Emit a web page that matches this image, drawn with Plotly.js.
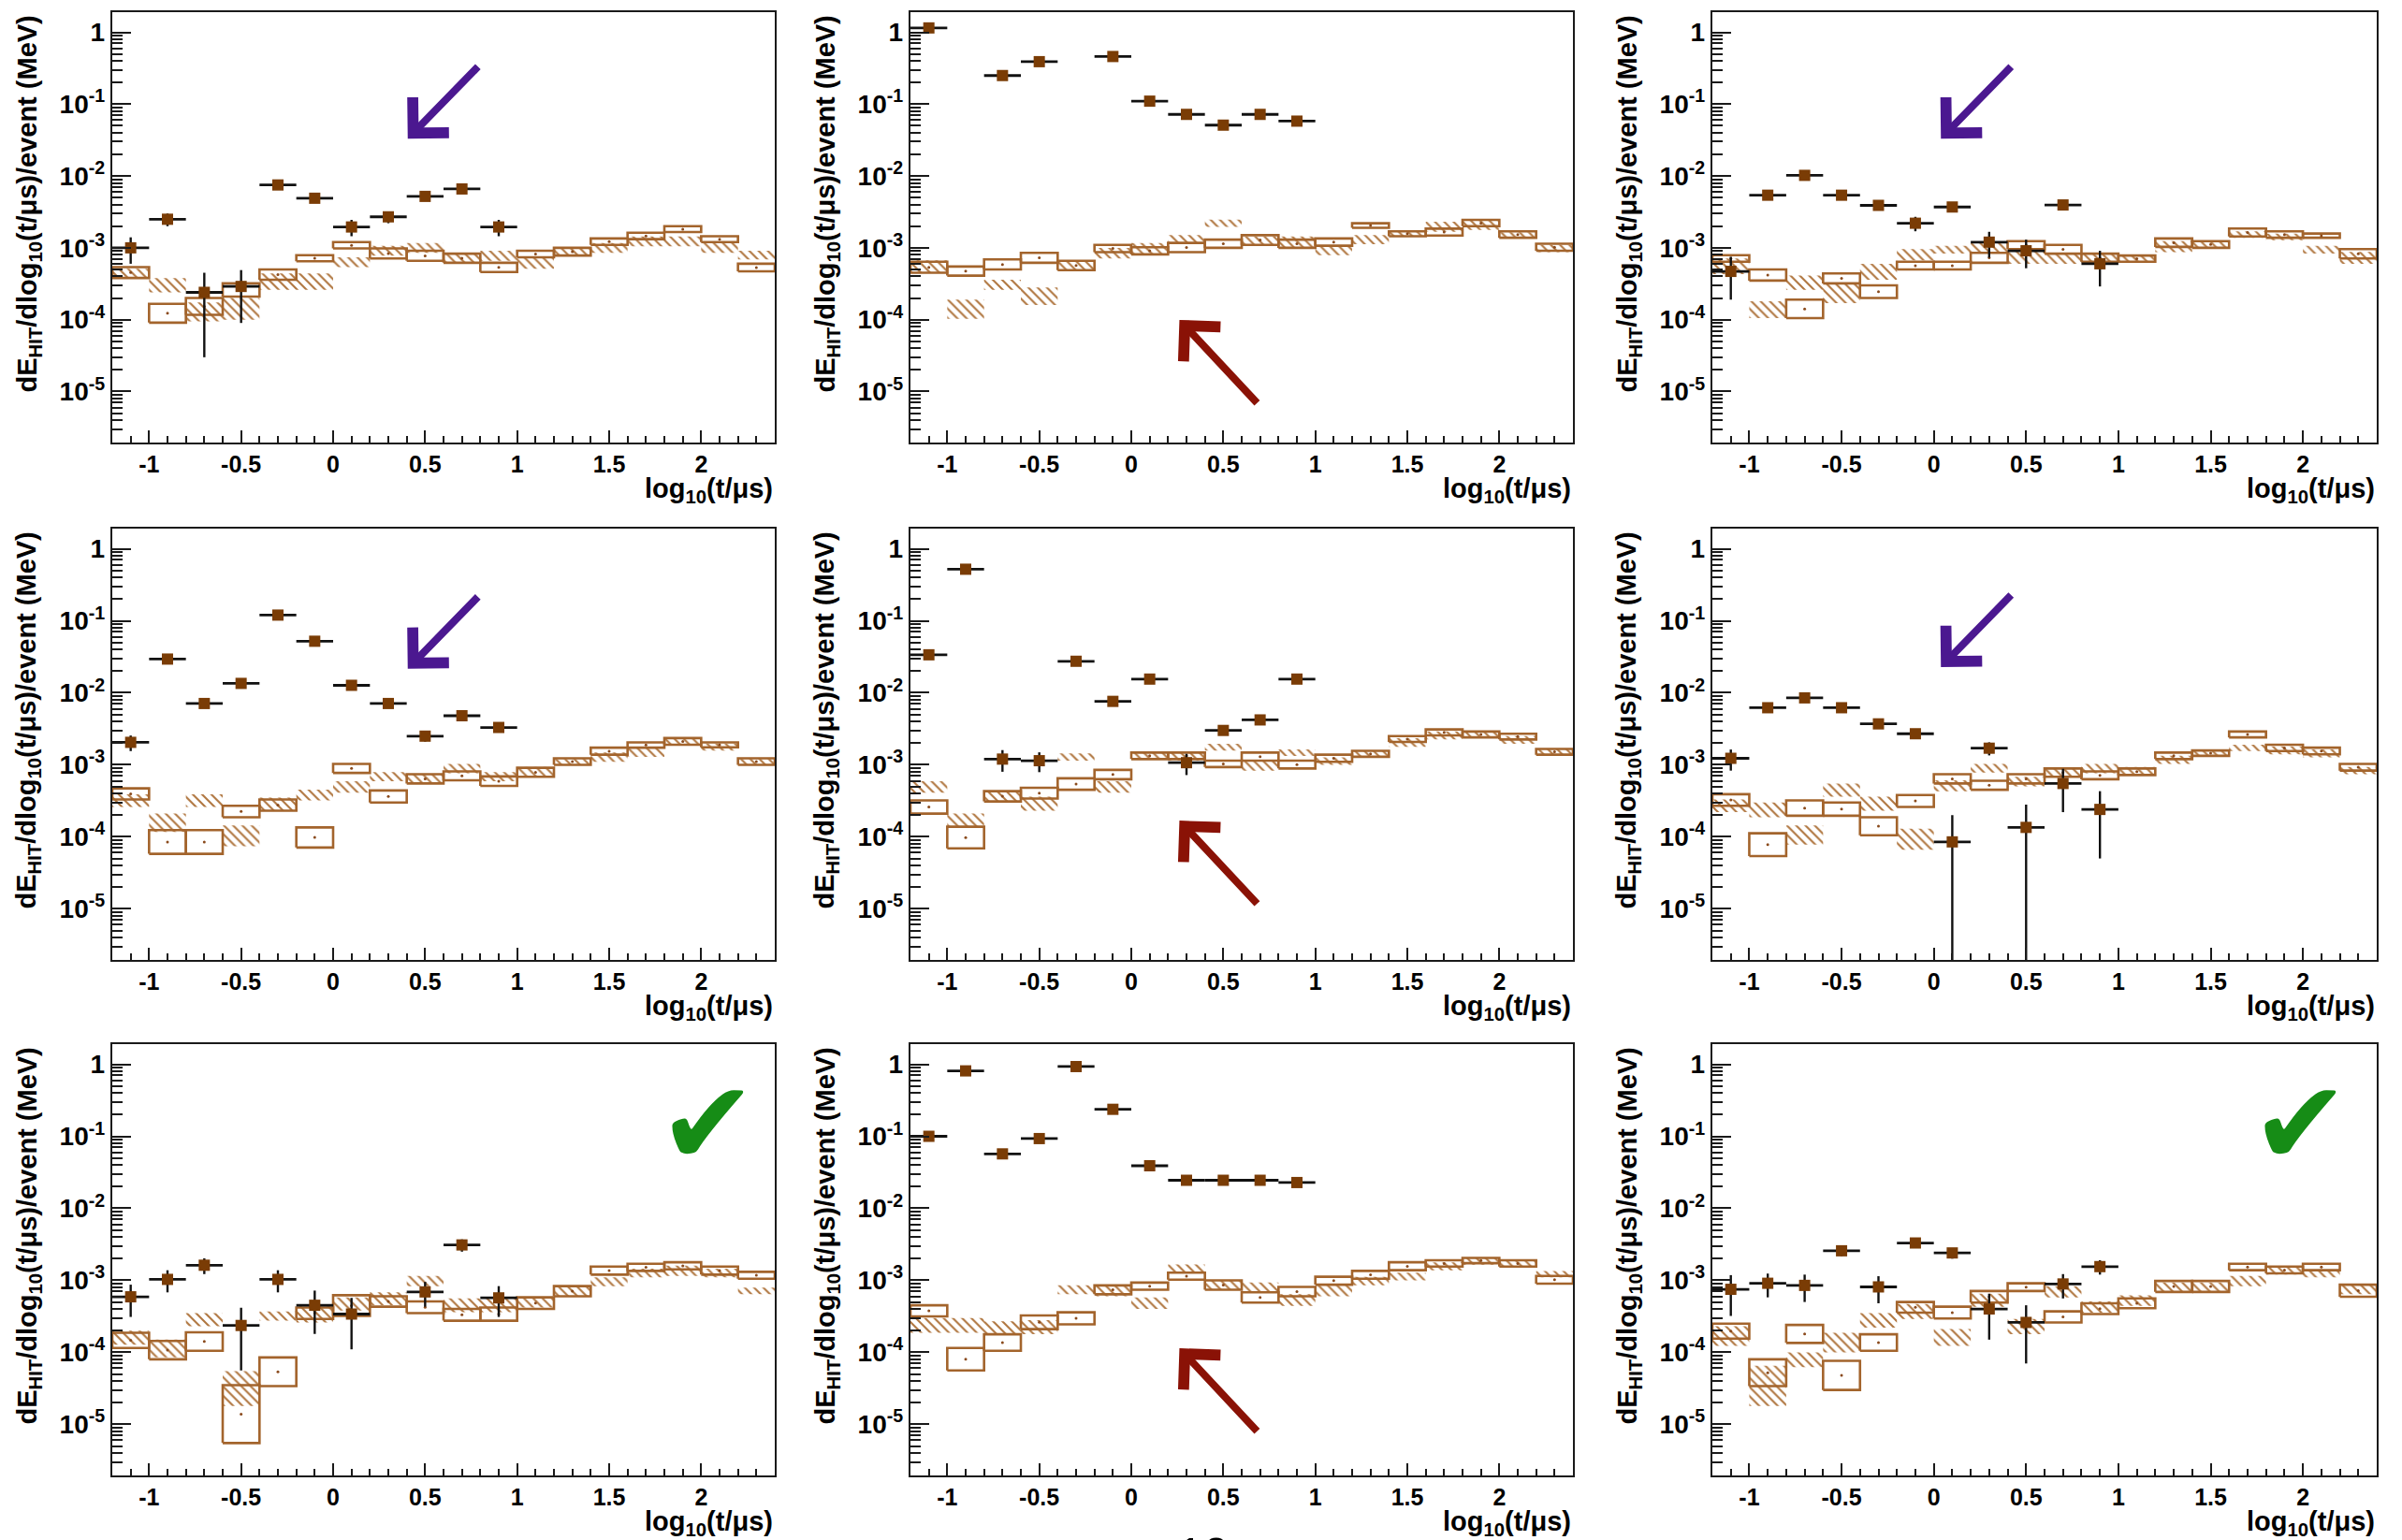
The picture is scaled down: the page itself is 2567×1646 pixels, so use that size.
<!DOCTYPE html>
<html><head><meta charset="utf-8">
<script src="https://cdn.plot.ly/plotly-3.0.1.min.js"></script>
<style>html,body{margin:0;padding:0;background:#fff}#chart{width:2567px;height:1646px}</style>
</head><body><div id="chart"></div>
<script>
// ---------- shared categories / ticks ----------
const binCenters = [-1.1,-0.9,-0.7,-0.5,-0.3,-0.1,0.1,0.3,0.5,0.7,0.9,1.1,1.3,1.5,1.7,1.9,2.1,2.3];
const dataBins   = [-1.1,-0.9,-0.7,-0.5,-0.3,-0.1,0.1,0.3,0.5,0.7,0.9];
const binHalfWidth = 0.1;
const xTickVals = [-1,-0.5,0,0.5,1,1.5,2];
const xTickText = ['-1','-0.5','0','0.5','1','1.5','2'];
const yTickVals = [1e-5,1e-4,1e-3,1e-2,1e-1,1];
const yTickText = ['10<sup>-5</sup>','10<sup>-4</sup>','10<sup>-3</sup>','10<sup>-2</sup>','10<sup>-1</sup>','1'];

// ---------- panel 1 ----------
const p1Data = [1.0e-3,2.5e-3,2.4e-4,2.9e-4,7.5e-3,4.9e-3,1.95e-3,2.7e-3,5.2e-3,6.6e-3,1.95e-3];
const p1Err  = [4e-4,5e-4,2.1e-4,2.0e-4,8e-4,5e-4,5e-4,5e-4,6e-4,7e-4,5e-4];
const p1BoxHi = [5.4e-4,1.66e-4,2.0e-4,3.2e-4,5.0e-4,7.9e-4,1.2e-3,9.8e-4,9.1e-4,8.3e-4,6.2e-4,9.1e-4,1.0e-3,1.35e-3,1.62e-3,2.0e-3,1.45e-3,6.0e-4];
const p1BoxLo = [3.8e-4,9.1e-5,1.17e-4,2.1e-4,3.6e-4,6.5e-4,9.8e-4,7.1e-4,6.6e-4,6.2e-4,4.6e-4,7.4e-4,7.8e-4,1.1e-3,1.32e-3,1.66e-3,1.2e-3,4.7e-4];
const p1HatchHi = [5.1e-4,3.8e-4,1.74e-4,2.0e-4,4.4e-4,4.4e-4,7.4e-4,1.07e-3,1.17e-3,8.5e-4,9.1e-4,7.4e-4,1.0e-3,1.17e-3,1.44e-3,1.44e-3,1.23e-3,9.1e-4];
const p1HatchLo = [3.8e-4,2.4e-4,9.5e-5,1.0e-4,2.6e-4,2.6e-4,5.4e-4,7.8e-4,8.5e-4,6.0e-4,6.6e-4,5.1e-4,7.8e-4,8.5e-4,1.05e-3,1.05e-3,8.5e-4,6.9e-4];

// ---------- panel 2 ----------
const p2Data = [1.15,null,0.25,0.39,null,0.46,0.11,0.072,0.051,0.072,0.058];
const p2Err  = [0.1,null,0.025,0.04,null,0.05,0.01,0.007,0.005,0.007,0.006];
const p2BoxHi = [6.4e-4,5.5e-4,6.9e-4,8.5e-4,6.6e-4,1.1e-3,1.02e-3,1.17e-3,1.3e-3,1.5e-3,1.3e-3,1.35e-3,2.2e-3,1.7e-3,1.85e-3,2.45e-3,1.7e-3,1.14e-3];
const p2BoxLo = [4.5e-4,4.1e-4,5.0e-4,6.2e-4,4.9e-4,8.7e-4,8.1e-4,8.7e-4,1.0e-3,1.1e-3,1.0e-3,1.07e-3,1.9e-3,1.45e-3,1.48e-3,2.0e-3,1.38e-3,9.1e-4];
const p2HatchHi = [6.7e-4,1.9e-4,3.6e-4,2.8e-4,6.6e-4,1.0e-3,1.17e-3,1.5e-3,2.46e-3,1.44e-3,1.44e-3,1.07e-3,1.5e-3,1.7e-3,2.3e-3,2.4e-3,1.65e-3,1.1e-3];
const p2HatchLo = [4.5e-4,1.03e-4,2.6e-4,1.6e-4,4.9e-4,7.1e-4,8.3e-4,1.12e-3,1.95e-3,1.07e-3,1.0e-3,7.9e-4,1.12e-3,1.45e-3,1.67e-3,1.78e-3,1.35e-3,8.7e-4];

// ---------- panel 3 ----------
const p3Data = [4.7e-4,5.4e-3,1.02e-2,5.4e-3,3.9e-3,2.2e-3,3.7e-3,1.2e-3,9.1e-4,3.95e-3,6.0e-4];
const p3Err  = [2.8e-4,5e-4,1e-3,5e-4,4e-4,5e-4,4e-4,4.7e-4,3.9e-4,4e-4,3.1e-4];
const p3BoxHi = [7.9e-4,5.0e-4,1.9e-4,4.4e-4,3.0e-4,6.4e-4,6.4e-4,8.5e-4,1.24e-3,1.1e-3,8.3e-4,7.8e-4,1.35e-3,1.24e-3,1.86e-3,1.7e-3,1.58e-3,9.6e-4];
const p3BoxLo = [6.4e-4,3.5e-4,1.05e-4,3.2e-4,2.0e-4,5.0e-4,5.0e-4,6.2e-4,9.6e-4,8.3e-4,6.4e-4,6.4e-4,1.03e-3,1.0e-3,1.44e-3,1.38e-3,1.38e-3,7.1e-4];
const p3HatchHi = [7.1e-4,1.8e-4,4.1e-4,3.2e-4,6.0e-4,9.6e-4,1.07e-3,1.17e-3,9.1e-4,8.3e-4,8.3e-4,7.8e-4,1.24e-3,1.24e-3,1.7e-3,1.58e-3,1.07e-3,8.8e-4];
const p3HatchLo = [4.3e-4,1.05e-4,2.6e-4,1.7e-4,3.6e-4,6.7e-4,8.3e-4,8.3e-4,6.0e-4,6.0e-4,6.0e-4,6.4e-4,8.7e-4,9.8e-4,1.38e-3,1.28e-3,8.3e-4,6.0e-4];

// ---------- panel 4 ----------
const p4Data = [2.05e-3,0.0294,7.1e-3,0.0135,0.12,0.052,0.0127,7.1e-3,2.5e-3,4.8e-3,3.3e-3];
const p4Err  = [5e-4,2.5e-3,7e-4,1.2e-3,0.01,4.5e-3,1.2e-3,7e-4,4e-4,5e-4,4e-4];
const p4BoxHi = [4.7e-4,1.24e-4,1.24e-4,2.7e-4,3.3e-4,1.35e-4,1.03e-3,4.4e-4,7.4e-4,8.1e-4,6.9e-4,9.1e-4,1.23e-3,1.73e-3,2.05e-3,2.35e-3,2.05e-3,1.23e-3];
const p4BoxLo = [3.3e-4,5.8e-5,5.8e-5,1.87e-4,2.3e-4,7.1e-5,7.7e-4,3.0e-4,5.5e-4,6.1e-4,5.1e-4,6.8e-4,1.0e-3,1.38e-3,1.73e-3,1.9e-3,1.75e-3,1.0e-3];
const p4HatchHi = [3.9e-4,2.1e-4,3.9e-4,1.44e-4,3.5e-4,4.5e-4,5.9e-4,7.9e-4,7.4e-4,1.03e-3,7.9e-4,9.3e-4,1.2e-3,1.48e-3,1.73e-3,2.35e-3,1.97e-3,1.2e-3];
const p4HatchLo = [2.6e-4,1.17e-4,2.6e-4,7.4e-5,2.3e-4,3.2e-4,4.1e-4,5.9e-4,5.5e-4,7.6e-4,5.9e-4,6.8e-4,9.8e-4,1.1e-3,1.29e-3,1.9e-3,1.57e-3,1.0e-3];

// ---------- panel 5 ----------
const p5Data = [0.0337,0.52,1.2e-3,1.14e-3,0.0274,7.6e-3,0.0155,1.07e-3,3.0e-3,4.2e-3,0.0155];
const p5Err  = [3e-3,0.05,4e-4,3.5e-4,2.5e-3,7e-4,1.4e-3,3.5e-4,4e-4,5e-4,1.4e-3];
const p5BoxHi = [3.2e-4,1.38e-4,4.3e-4,4.8e-4,6.5e-4,8.5e-4,1.48e-3,1.48e-3,1.14e-3,1.48e-3,1.14e-3,1.38e-3,1.56e-3,2.5e-3,3.1e-3,2.9e-3,2.7e-3,1.66e-3];
const p5BoxLo = [2.1e-4,6.9e-5,3.1e-4,3.4e-4,4.5e-4,6.3e-4,1.2e-3,1.2e-3,9.3e-4,1.14e-3,8.9e-4,1.1e-3,1.29e-3,2.08e-3,2.56e-3,2.4e-3,2.25e-3,1.38e-3];
const p5HatchHi = [5.9e-4,2.1e-4,4.3e-4,3.6e-4,1.44e-3,5.9e-4,1.48e-3,1.48e-3,1.95e-3,1.14e-3,1.63e-3,1.27e-3,1.56e-3,2.35e-3,2.9e-3,2.9e-3,2.5e-3,1.66e-3];
const p5HatchLo = [4.1e-4,1.38e-4,3.1e-4,2.3e-4,1.14e-3,4.1e-4,1.2e-3,1.14e-3,1.58e-3,8.3e-4,1.33e-3,1.0e-3,1.29e-3,1.77e-3,2.25e-3,2.4e-3,1.95e-3,1.38e-3];

// ---------- panel 6 ----------
const p6Data = [1.23e-3,6.2e-3,8.5e-3,6.2e-3,3.7e-3,2.7e-3,8.5e-5,1.7e-3,1.35e-4,5.5e-4,2.4e-4];
const p6Err  = [4e-4,6e-4,8e-4,6e-4,4e-4,4e-4,1.15e-4,3.5e-4,1.45e-4,3.3e-4,1.9e-4];
const p6BoxHi = [3.9e-4,1.12e-4,3.2e-4,3.0e-4,1.87e-4,3.8e-4,7.4e-4,6.0e-4,7.4e-4,8.9e-4,8.1e-4,8.9e-4,1.48e-3,1.58e-3,2.9e-3,1.9e-3,1.73e-3,1.03e-3];
const p6BoxLo = [2.7e-4,5.4e-5,1.96e-4,1.96e-4,1.05e-4,2.6e-4,5.5e-4,4.5e-4,5.5e-4,6.8e-4,6.3e-4,7.2e-4,1.2e-3,1.33e-3,2.4e-3,1.55e-3,1.4e-3,8.3e-4];
const p6HatchHi = [3.3e-4,3.0e-4,1.44e-4,5.5e-4,3.6e-4,1.3e-4,6.1e-4,1.03e-3,6.8e-4,8.9e-4,1.03e-3,9.3e-4,1.34e-3,1.56e-3,1.9e-3,1.8e-3,1.63e-3,9.3e-4];
const p6HatchLo = [2.2e-4,1.87e-4,7.8e-5,3.6e-4,2.3e-4,6.6e-5,4.3e-4,7.8e-4,5.0e-4,6.8e-4,7.6e-4,7.2e-4,1.03e-3,1.29e-3,1.55e-3,1.4e-3,1.27e-3,7.4e-4];

// ---------- panel 7 ----------
const p7Data = [5.9e-4,1.03e-3,1.62e-3,2.36e-4,1.03e-3,4.5e-4,3.4e-4,null,6.9e-4,3.1e-3,5.7e-4];
const p7Err  = [2.8e-4,3.5e-4,4e-4,1.8e-4,3.5e-4,2.7e-4,2.3e-4,null,2.6e-4,6e-4,2.6e-4];
const p7BoxHi = [1.87e-4,1.44e-4,1.9e-4,3.5e-5,8.5e-5,4.2e-4,6.2e-4,6.0e-4,5.1e-4,4.0e-4,4.2e-4,5.8e-4,8.3e-4,1.55e-3,1.7e-3,1.78e-3,1.55e-3,1.31e-3];
const p7BoxLo = [1.15e-4,8.0e-5,1.05e-4,5.5e-6,3.4e-5,2.9e-4,3.2e-4,4.3e-4,3.5e-4,2.75e-4,2.75e-4,4.0e-4,6.0e-4,1.2e-3,1.35e-3,1.42e-3,1.2e-3,1.05e-3];
const p7HatchHi = [2.0e-4,1.5e-4,3.5e-4,5.5e-5,3.7e-4,4.4e-4,5.8e-4,6.8e-4,1.15e-3,5.6e-4,5.6e-4,5.8e-4,8.3e-4,1.1e-3,1.45e-3,1.6e-3,1.45e-3,7.9e-4];
const p7HatchLo = [1.28e-4,8.5e-5,2.3e-4,1.8e-5,2.75e-4,2.6e-4,3.8e-4,4.5e-4,8.3e-4,3.6e-4,3.6e-4,4.2e-4,6.0e-4,8.3e-4,1.1e-3,1.15e-3,1.1e-3,6.4e-4];

// ---------- panel 8 ----------
const p8Data = [0.1,0.81,0.057,0.093,0.93,0.237,0.039,0.0245,0.0245,0.0245,0.0228];
const p8Err  = [0.008,0.06,0.005,0.008,0.07,0.02,0.004,0.002,0.002,0.002,0.002];
const p8BoxHi = [4.5e-4,1.15e-4,1.78e-4,3.25e-4,3.6e-4,8.5e-4,9.3e-4,1.28e-3,1.0e-3,6.8e-4,8.1e-4,1.12e-3,1.35e-3,1.78e-3,1.9e-3,2.05e-3,1.9e-3,1.15e-3];
const p8BoxLo = [3.15e-4,5.6e-5,1.05e-4,2.1e-4,2.45e-4,6.4e-4,7.4e-4,1.02e-3,7.4e-4,4.9e-4,6.0e-4,8.7e-4,1.05e-3,1.38e-3,1.55e-3,1.73e-3,1.55e-3,9.0e-4];
const p8HatchHi = [3.0e-4,3.0e-4,2.7e-4,2.8e-4,8.5e-4,8.5e-4,5.8e-4,1.66e-3,1.0e-3,9.3e-4,6.4e-4,8.9e-4,1.12e-3,1.28e-3,1.78e-3,2.05e-3,1.9e-3,1.35e-3];
const p8HatchLo = [1.87e-4,1.87e-4,1.78e-4,1.78e-4,6.4e-4,6.0e-4,4.0e-4,1.28e-3,7.4e-4,7.1e-4,4.4e-4,6.0e-4,8.5e-4,1.0e-3,1.38e-3,1.65e-3,1.55e-3,1.1e-3];

// ---------- panel 9 ----------
const p9Data = [7.5e-4,9.1e-4,8.5e-4,2.57e-3,8.1e-4,3.3e-3,2.4e-3,4.0e-4,2.6e-4,8.9e-4,1.55e-3];
const p9Err  = [4.3e-4,3.3e-4,3.5e-4,4e-4,3.3e-4,5e-4,4e-4,2.5e-4,1.9e-4,3.3e-4,3.5e-4];
const p9BoxHi = [2.5e-4,8.0e-5,2.4e-4,7.6e-5,1.78e-4,5.0e-4,4.3e-4,7.1e-4,9.1e-4,3.7e-4,4.8e-4,5.6e-4,9.8e-4,9.8e-4,1.7e-3,1.55e-3,1.7e-3,8.7e-4];
const p9BoxLo = [1.55e-4,3.4e-5,1.35e-4,3.0e-5,1.05e-4,3.55e-4,2.95e-4,4.9e-4,7.1e-4,2.6e-4,3.4e-4,4.1e-4,6.9e-4,6.9e-4,1.38e-3,1.25e-3,1.38e-3,5.9e-4];
const p9HatchHi = [2.3e-4,6.5e-5,1.0e-4,1.87e-4,3.5e-4,4.7e-4,2.1e-4,6.5e-4,2.9e-4,8.3e-4,5.1e-4,6.2e-4,9.3e-4,9.3e-4,1.15e-3,1.5e-3,1.35e-3,8.7e-4];
const p9HatchLo = [1.23e-4,1.8e-5,6.2e-5,1.0e-4,2.2e-4,2.9e-4,1.23e-4,4.3e-4,1.78e-4,5.8e-4,3.55e-4,4.4e-4,7.1e-4,7.1e-4,8.3e-4,1.2e-3,1.1e-3,6.4e-4];

const panels = [
  {data:p1Data,err:p1Err,boxHi:p1BoxHi,boxLo:p1BoxLo,hatchHi:p1HatchHi,hatchLo:p1HatchLo},
  {data:p2Data,err:p2Err,boxHi:p2BoxHi,boxLo:p2BoxLo,hatchHi:p2HatchHi,hatchLo:p2HatchLo},
  {data:p3Data,err:p3Err,boxHi:p3BoxHi,boxLo:p3BoxLo,hatchHi:p3HatchHi,hatchLo:p3HatchLo},
  {data:p4Data,err:p4Err,boxHi:p4BoxHi,boxLo:p4BoxLo,hatchHi:p4HatchHi,hatchLo:p4HatchLo},
  {data:p5Data,err:p5Err,boxHi:p5BoxHi,boxLo:p5BoxLo,hatchHi:p5HatchHi,hatchLo:p5HatchLo},
  {data:p6Data,err:p6Err,boxHi:p6BoxHi,boxLo:p6BoxLo,hatchHi:p6HatchHi,hatchLo:p6HatchLo},
  {data:p7Data,err:p7Err,boxHi:p7BoxHi,boxLo:p7BoxLo,hatchHi:p7HatchHi,hatchLo:p7HatchLo},
  {data:p8Data,err:p8Err,boxHi:p8BoxHi,boxLo:p8BoxLo,hatchHi:p8HatchHi,hatchLo:p8HatchLo},
  {data:p9Data,err:p9Err,boxHi:p9BoxHi,boxLo:p9BoxLo,hatchHi:p9HatchHi,hatchLo:p9HatchLo}
];

// ---------- styles ----------
const W = 2567, H = 1646;
const colPx = [[120,828],[973,1681],[1830,2540]];
const rowPx = [[13,473],[565,1026],[1116,1577]];
const boxColor = '#a3642c';
const hatchColor = '#b07640';
const dataColor = '#7a3c05';
const axisColor = '#1a1a1a';
const fontFam = 'Liberation Sans, Arial, sans-serif';

function polys(lo, hi) {
  const xs = [], ys = [];
  binCenters.forEach((c, i) => {
    if (lo[i] == null || hi[i] == null) return;
    const x0 = c - binHalfWidth, x1 = c + binHalfWidth;
    xs.push(x0, x1, x1, x0, x0, null);
    ys.push(lo[i], lo[i], hi[i], hi[i], lo[i], null);
  });
  return {xs, ys};
}

const xMinor = [];
for (let k = -12; k <= 24; k++) { const v = k / 10; if (Math.abs(v * 2 - Math.round(v * 2)) > 1e-6) xMinor.push(+v.toFixed(1)); }
const yMinor = [];
for (let e = -6; e <= 0; e++) for (let m = 2; m <= 9; m++) yMinor.push(m * Math.pow(10, e));

const traces = [];
const layout = {
  width: W, height: H,
  margin: {l:0, r:0, t:0, b:0},
  paper_bgcolor: '#ffffff', plot_bgcolor: '#ffffff',
  showlegend: false,
  font: {family: fontFam, color: '#000'},
  annotations: []
};

panels.forEach((p, i) => {
  const n = i + 1;
  const xa = n === 1 ? 'x' : 'x' + n;
  const ya = n === 1 ? 'y' : 'y' + n;
  const row = Math.floor(i / 3), col = i % 3;

  const hp = polys(p.hatchLo, p.hatchHi);
  traces.push({
    type: 'scatter', mode: 'lines', x: hp.xs, y: hp.ys, xaxis: xa, yaxis: ya,
    fill: 'toself', fillcolor: 'rgba(0,0,0,0)', line: {width: 0, color: 'rgba(0,0,0,0)'},
    fillpattern: {shape: '\\', fgcolor: hatchColor, bgcolor: 'rgba(0,0,0,0)', size: 7, solidity: 0.3},
    hoverinfo: 'skip', connectgaps: false
  });

  const bp = polys(p.boxLo, p.boxHi);
  traces.push({
    type: 'scatter', mode: 'lines', x: bp.xs, y: bp.ys, xaxis: xa, yaxis: ya,
    line: {width: 2.6, color: boxColor}, hoverinfo: 'skip', connectgaps: false
  });
  traces.push({
    type: 'scatter', mode: 'markers', x: binCenters,
    y: binCenters.map((c, k) => Math.sqrt(p.boxLo[k] * p.boxHi[k])),
    xaxis: xa, yaxis: ya, marker: {size: 3, color: '#8a4a1c'}, hoverinfo: 'skip'
  });

  traces.push({
    type: 'scatter', mode: 'markers', x: dataBins, y: p.data, xaxis: xa, yaxis: ya,
    marker: {symbol: 'square', size: 12, color: dataColor},
    error_y: {type: 'data', array: p.err, visible: true, color: '#111', thickness: 2.4, width: 0},
    error_x: {type: 'constant', value: binHalfWidth, visible: true, color: '#111', thickness: 2.8, width: 0}
  });

  const xd = [colPx[col][0] / W, colPx[col][1] / W];
  const yd = [1 - rowPx[row][1] / H, 1 - rowPx[row][0] / H];

  layout['xaxis' + (n === 1 ? '' : n)] = {
    domain: xd, anchor: ya, range: [-1.2, 2.4],
    tickmode: 'array', tickvals: xTickVals, ticktext: xTickText,
    ticks: 'inside', ticklen: 13, tickwidth: 2, tickcolor: axisColor,
    minor: {tickmode: 'array', tickvals: xMinor, ticks: 'inside', ticklen: 7, tickwidth: 2, tickcolor: axisColor, showgrid: false},
    showline: true, linecolor: axisColor, linewidth: 2.2, mirror: true,
    showgrid: false, zeroline: false,
    tickfont: {family: fontFam, size: 25, color: '#000', weight: 'bold'}
  };
  layout['yaxis' + (n === 1 ? '' : n)] = {
    domain: yd, anchor: xa, type: 'log', range: [-5.71, 0.28],
    tickmode: 'array', tickvals: yTickVals, ticktext: yTickText,
    ticks: 'inside', ticklen: 20, tickwidth: 2, tickcolor: axisColor,
    minor: {tickmode: 'array', tickvals: yMinor, ticks: 'inside', ticklen: 11, tickwidth: 2, tickcolor: axisColor, showgrid: false},
    showline: true, linecolor: axisColor, linewidth: 2.2, mirror: true,
    showgrid: false, zeroline: false,
    tickfont: {family: fontFam, size: 28, color: '#000', weight: 'bold'}
  };

  // axis titles (ROOT style: right/top aligned)
  layout.annotations.push({
    xref: xa + ' domain', yref: ya + ' domain', x: 0, y: 1,
    xanchor: 'center', yanchor: 'top', xshift: -90, yshift: -2,
    textangle: -90, showarrow: false,
    text: '<b>dE<sub>HIT</sub>/dlog<sub>10</sub>(t/μs)/event (MeV)</b>',
    font: {family: fontFam, size: 29, color: '#000'}
  });
  layout.annotations.push({
    xref: xa + ' domain', yref: ya + ' domain', x: 1, y: 0,
    xanchor: 'right', yanchor: 'top', yshift: -31, showarrow: false,
    text: '<b>log<sub>10</sub>(t/μs)</b>',
    font: {family: fontFam, size: 29, color: '#000'}
  });
});

// ---------- markup arrows and check marks ----------
const purpleArrows = [[1, 0.446, 0.706], [3, 0.344, 0.706], [4, 0.446, 0.675], [6, 0.344, 0.679]];
const redArrows = [[2, 0.406, 0.285], [5, 0.406, 0.323], [8, 0.406, 0.295]];
const checks = [[7, 0.899, 0.816], [9, 0.885, 0.816]];
function ref(n) { return n === 1 ? '' : String(n); }
purpleArrows.forEach(([n, x, y]) => layout.annotations.push({
  xref: 'x' + ref(n) + ' domain', yref: 'y' + ref(n) + ' domain', x: x, y: y,
  ax: 78, ay: -80, axref: 'pixel', ayref: 'pixel', text: ' ', showarrow: true,
  arrowhead: 4, arrowsize: 1.3, arrowwidth: 8, arrowcolor: '#4b1890', standoff: 0, startstandoff: 0
}));
redArrows.forEach(([n, x, y]) => layout.annotations.push({
  xref: 'x' + ref(n) + ' domain', yref: 'y' + ref(n) + ' domain', x: x, y: y,
  ax: 86, ay: 92, axref: 'pixel', ayref: 'pixel', text: ' ', showarrow: true,
  arrowhead: 4, arrowsize: 1.3, arrowwidth: 8, arrowcolor: '#8a1206', standoff: 0, startstandoff: 0
}));
checks.forEach(([n, x, y]) => layout.annotations.push({
  xref: 'x' + ref(n) + ' domain', yref: 'y' + ref(n) + ' domain', x: x, y: y,
  xanchor: 'center', yanchor: 'middle', showarrow: false, text: '✔',
  font: {family: 'DejaVu Sans', size: 125, color: '#168c16'}
}));
// page number, cut at the bottom edge
layout.annotations.push({
  xref: 'paper', yref: 'paper', x: 1286 / W, y: 14 / H, xanchor: 'center', yanchor: 'top',
  showarrow: false, text: '10', font: {family: fontFam, size: 50, color: '#000'}
});

Plotly.newPlot('chart', traces, layout, {staticPlot: true, displayModeBar: false});
</script>
</body></html>
